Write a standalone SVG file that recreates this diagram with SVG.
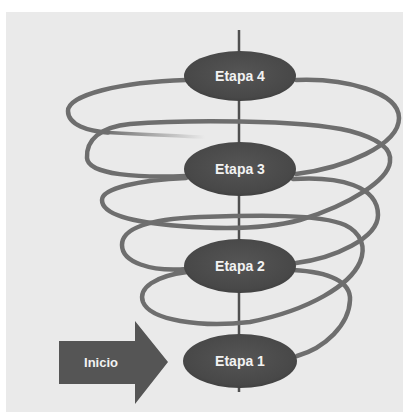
<svg xmlns="http://www.w3.org/2000/svg" width="403" height="412" viewBox="0 0 403 412">
<defs>
<style>
.coil{fill:none;stroke:#6e6e6e;stroke-width:4.5;stroke-linecap:round}
.label{font-family:"Liberation Sans","DejaVu Sans",sans-serif;font-weight:bold;font-size:14px;fill:#f2f2f2;text-anchor:middle}
.axis{stroke:#505050;stroke-width:2.5}
</style>
<radialGradient id="eg" cx="0.5" cy="0.45" r="0.6">
<stop offset="0" stop-color="#555"/>
<stop offset="0.8" stop-color="#484848"/>
<stop offset="1" stop-color="#3c3c3c"/>
</radialGradient>
<linearGradient id="fade" gradientUnits="userSpaceOnUse" x1="105" y1="0" x2="205" y2="0">
<stop offset="0" stop-color="#6e6e6e" stop-opacity="1"/>
<stop offset="1" stop-color="#6e6e6e" stop-opacity="0"/>
</linearGradient>
</defs>
<rect x="6" y="12" width="397" height="400" fill="#eaeaea"/>
<line class="axis" x1="239" y1="30" x2="239" y2="392"/>
<g id="connectors">
<path class="coil" d="M186,80 C120,82 68,95 68,111 C68,125 88,131 108,132.5"/>
<path d="M104,132.3 C145,135 180,136 205,137" fill="none" stroke="url(#fade)" stroke-width="3.5" stroke-linecap="round"/>
<path class="coil" d="M296,80 C345,78 399,92 399,118 C399,145 345,168 296,174"/>
<path class="coil" d="M186,176 C140,178 88,175 87,158 C86,140 100,127 130,124 C180,120 300,119 350,131 C380,139 392,150 390,162 C388,180 350,205 300,220 C270,228 230,230 180,226 C130,222 102,214 102,200 C102,188 140,180 186,178"/>
<path class="coil" d="M293,179 C340,176 378,186 378,215 C378,238 335,258 296,263"/>
<path class="coil" d="M187,269 C150,272 122,262 122,245 C122,228 150,219 200,217 C260,215 320,214 345,225 C362,233 366,248 360,262 C350,285 310,310 250,322 C200,328 150,320 143,302 C138,288 155,276 187,272"/>
<path class="coil" d="M293,270 C330,272 351,282 350,300 C349,325 325,348 297,356"/>
</g>
<g id="etapa4">
<ellipse cx="240" cy="76" rx="56" ry="25" fill="url(#eg)"/>
<text class="label" x="240" y="81">Etapa 4</text>
</g>
<g id="etapa3">
<ellipse cx="240" cy="169" rx="56" ry="27" fill="url(#eg)"/>
<text class="label" x="240" y="174">Etapa 3</text>
</g>
<g id="etapa2">
<ellipse cx="240" cy="266" rx="56" ry="27" fill="url(#eg)"/>
<text class="label" x="240" y="271">Etapa 2</text>
</g>
<g id="etapa1">
<ellipse cx="240" cy="361" rx="57" ry="27" fill="url(#eg)"/>
<text class="label" x="240" y="366">Etapa 1</text>
</g>
<g id="inicio">
<path d="M59,341 L135,341 L135,321 L168,362 L135,404 L135,384 L59,384 Z" fill="#555"/>
<text class="label" x="101" y="367" style="font-size:13px">Inicio</text>
</g>
</svg>
